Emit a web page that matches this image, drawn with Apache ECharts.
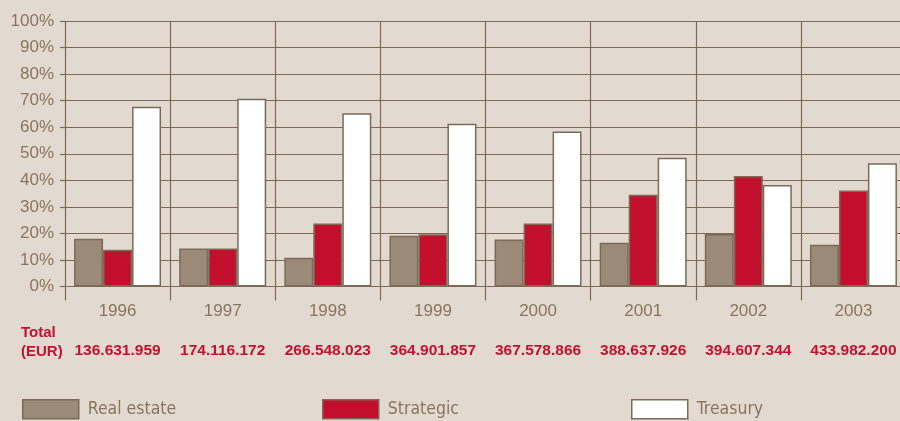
<!DOCTYPE html>
<html>
<head>
<meta charset="utf-8">
<script src="https://cdn.jsdelivr.net/npm/echarts@6/dist/echarts.min.js"></script>
<style>
  html, body { margin: 0; padding: 0; background: #e2dad1; }
  #main { width: 900px; height: 421px; }
</style>
</head>
<body>
<div id="main"></div>
<script>
// 数据
var years = ['1996', '1997', '1998', '1999', '2000', '2001', '2002', '2003'];
var totals = ['136.631.959', '174.116.172', '266.548.023', '364.901.857', '367.578.866', '388.637.926', '394.607.344', '433.982.200'];
var realEstate = [18.0, 14.3, 10.8, 19.1, 17.7, 16.5, 19.8, 15.7];
var strategic = [13.8, 14.3, 23.7, 19.7, 23.7, 34.6, 41.6, 36.2];
var treasury = [67.7, 70.7, 65.3, 61.3, 58.4, 48.5, 38.2, 46.4];

var brown = '#7c6a57';
var textColor = '#87765f';
var red = '#c8102e';

var myChart = echarts.init(document.getElementById('main'));

function legendAt(left, name) {
  return {
    left: left,
    top: 399,
    padding: 0,
    itemWidth: 56,
    itemHeight: 19,
    itemGap: 0,
    data: [name],
    selectedMode: false,
    icon: 'rect',
    textStyle: {
      color: textColor,
      fontFamily: '"DejaVu Sans Condensed", "Liberation Sans Narrow", sans-serif',
      fontSize: 17.5,
      padding: [3, 0, 0, 4]
    },
    itemStyle: { borderColor: brown, borderWidth: 1.5 }
  };
}

myChart.setOption({
  backgroundColor: '#e2dad1',
  animation: false,
  textStyle: { fontFamily: '"Liberation Sans", sans-serif' },
  grid: { left: 65, top: 21, width: 841, height: 265.5, outerBoundsMode: 'none' },
  legend: [
    legendAt(22, 'Real estate'),
    legendAt(322, 'Strategic'),
    legendAt(631, 'Treasury')
  ],
  graphic: [{
    type: 'text',
    left: 21,
    top: 323,
    style: {
      text: 'Total\n(EUR)',
      fill: red,
      font: 'bold 15px "Liberation Sans", sans-serif',
      lineHeight: 19
    }
  }],
  xAxis: {
    type: 'category',
    data: years,
    axisLine: { lineStyle: { color: brown, width: 1.2 } },
    axisTick: { show: true, length: 14, lineStyle: { color: brown, width: 1.2 } },
    splitLine: { show: true, lineStyle: { color: brown, width: 1.2 } },
    axisLabel: {
      interval: 0,
      margin: 14,
      formatter: function (v, i) {
        return '{y|' + v + '}\n{t|' + totals[i] + '}';
      },
      rich: {
        y: { color: textColor, fontSize: 17, lineHeight: 21 },
        t: { color: red, fontSize: 15.5, fontWeight: 'bold', lineHeight: 58 }
      }
    }
  },
  yAxis: {
    type: 'value',
    min: 0,
    max: 100,
    interval: 10,
    axisLine: { show: false },
    axisTick: { show: true, length: 5, lineStyle: { color: brown, width: 1.2 } },
    splitLine: { lineStyle: { color: brown, width: 1.2 } },
    axisLabel: { formatter: '{value}%', color: textColor, fontSize: 17, margin: 11 }
  },
  series: [
    {
      name: 'Real estate',
      type: 'bar',
      barWidth: 29,
      barGap: 0,
      data: realEstate,
      itemStyle: { color: '#9b8a77', borderColor: brown, borderWidth: 1.5 }
    },
    {
      name: 'Strategic',
      type: 'bar',
      barWidth: 29,
      barGap: 0,
      data: strategic,
      itemStyle: { color: '#c30f2e', borderColor: brown, borderWidth: 1.5 }
    },
    {
      name: 'Treasury',
      type: 'bar',
      barWidth: 29,
      barGap: 0,
      data: treasury,
      itemStyle: { color: '#ffffff', borderColor: brown, borderWidth: 1.5 }
    }
  ]
});
</script>
</body>
</html>
